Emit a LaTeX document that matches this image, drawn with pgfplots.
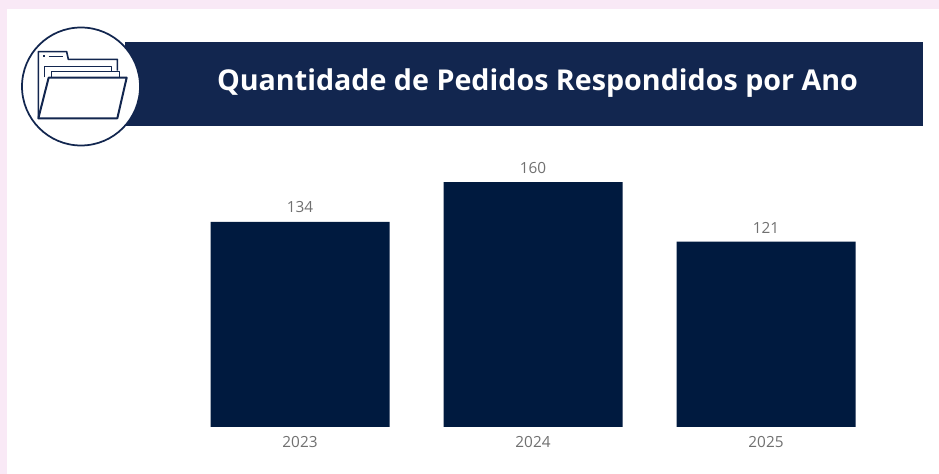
\documentclass[border=0pt]{standalone}
\usepackage{pgfplots}
\pgfplotsset{compat=1.18}
\usepackage{fontspec}
\setmainfont{Open Sans}
\definecolor{pagepink}{HTML}{F9E9F6}
\definecolor{banner}{HTML}{12264F}
\definecolor{barnavy}{HTML}{001A3F}
\definecolor{lblgrey}{HTML}{707070}
\begin{document}
\begin{tikzpicture}[x=0.75pt,y=0.75pt]
  % page and panel (units are pixels, origin bottom left)
  \fill[pagepink] (0,0) rectangle (939,474);
  \fill[white] (7,0) rectangle (939,465);
  % title banner
  \fill[banner] (125,348) rectangle (923,432);
  \node[anchor=center,text=white,font=\bfseries\fontsize{21.5}{24}\selectfont,inner sep=0pt]
    at (537.5,391) {Quantidade de Pedidos Respondidos por Ano};
  % round badge with folder icon
  \filldraw[fill=white,draw=banner,line width=1.3pt] (81,387.5) circle (59);
  \begin{scope}[draw=banner,line width=1.2pt,line join=round,shift={(0,474)},x=0.25pt,y=-0.25pt]
    \draw (115,352) -- (115,155) -- (200,155) -- (205,178) -- (352,178) -- (352,212);
    \draw (133,232) -- (133,200) -- (335,200) -- (335,214);
    \draw (155,232) -- (155,215) -- (358,215) -- (358,232);
    \draw[line width=1.5pt] (146,233) -- (380,233) -- (352,355) -- (115,355) -- cycle;
    \draw[line width=1pt] (130,168) -- (136,168);
    \draw[line width=1pt] (146,170) -- (188,170);
  \end{scope}
  % yearly bars
  \begin{axis}[
    at={(137.625pt,35.25pt)},anchor=south west,
    scale only axis,width=524.25pt,height=195.2pt,
    xmin=-0.5,xmax=2.5,ymin=0,ymax=170,
    axis line style={draw=none},
    xtick=data,xticklabels={2023,2024,2025},
    ytick=\empty,
    major tick length=0pt,
    tick label style={text=lblgrey,font=\fontsize{11.5}{13}\selectfont},
    xticklabel style={yshift=-3.5pt},
    /pgf/number format/assume math mode=true,
    nodes near coords,
    nodes near coords style={text=lblgrey,font=\fontsize{11.5}{13}\selectfont,yshift=3pt,
      /pgf/number format/assume math mode=true},
    clip=false,
  ]
    \addplot[ybar,bar width=134.25pt,fill=barnavy,draw=none] coordinates {(0,134) (1,160) (2,121)};
  \end{axis}
  \path[use as bounding box] (0,0) rectangle (939,474);
\end{tikzpicture}
\end{document}
